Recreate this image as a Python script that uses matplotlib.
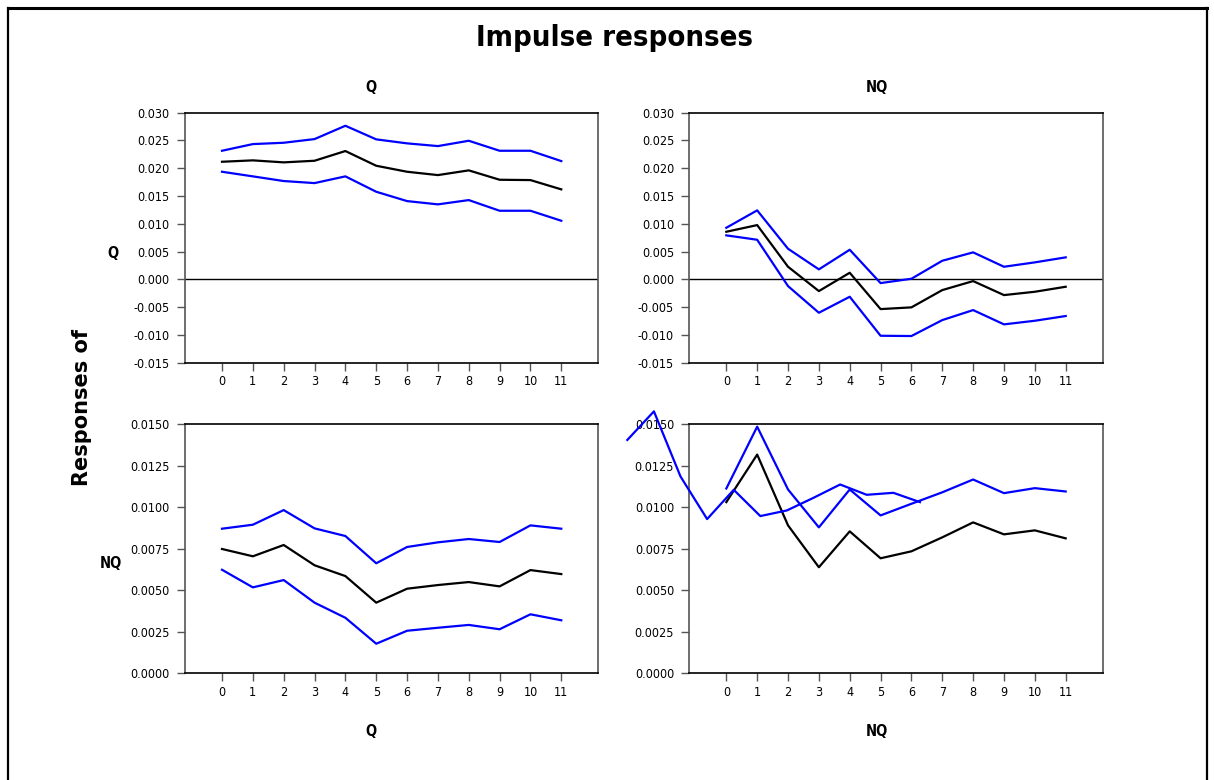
import matplotlib
matplotlib.use('Agg')
import matplotlib.pyplot as plt
from matplotlib.font_manager import FontProperties
from matplotlib.lines import Line2D
from matplotlib.ticker import FormatStrFormatter

plt.rcParams['font.family'] = ['Liberation Sans Narrow', 'DejaVu Sans']
plt.rcParams['font.stretch'] = 'condensed'

steps = list(range(12))

# responses of Q
q_q_up = [0.02315, 0.02435, 0.02459, 0.02525, 0.02765, 0.0252, 0.02448, 0.02399, 0.02495, 0.02315, 0.02315, 0.02129]
q_q = [0.02117, 0.02142, 0.02106, 0.02135, 0.0231, 0.02045, 0.01937, 0.01877, 0.01962, 0.01793, 0.01787, 0.0162]
q_q_lo = [0.01937, 0.01854, 0.0177, 0.01733, 0.01854, 0.01577, 0.01409, 0.0135, 0.01427, 0.01235, 0.01235, 0.01055]

q_nq_up = [0.00929, 0.01242, 0.00551, 0.0018, 0.00533, -0.00067, 0.00011, 0.00335, 0.00486, 0.00227, 0.00306, 0.00396]
q_nq = [0.00857, 0.00977, 0.00227, -0.00211, 0.00119, -0.00535, -0.00504, -0.00193, -0.00031, -0.00283, -0.00223, -0.00133]
q_nq_lo = [0.00792, 0.00713, -0.00121, -0.00601, -0.00313, -0.01015, -0.0102, -0.00733, -0.00553, -0.0081, -0.00745, -0.0066]

# responses of NQ
nq_q_up = [0.0087, 0.00894, 0.00982, 0.00872, 0.00826, 0.00662, 0.0076, 0.00788, 0.00808, 0.0079, 0.0089, 0.0087]
nq_q = [0.00748, 0.00704, 0.00772, 0.0065, 0.00585, 0.00425, 0.00509, 0.00531, 0.00549, 0.00523, 0.00621, 0.00597]
nq_q_lo = [0.00623, 0.00517, 0.00561, 0.00425, 0.00334, 0.00178, 0.00256, 0.00274, 0.00291, 0.00265, 0.00355, 0.00319]

nq_nq_up = [0.01112, 0.01484, 0.01106, 0.00878, 0.01106, 0.0095, 0.0102, 0.01089, 0.01166, 0.01084, 0.01114, 0.01094]
nq_nq = [0.0103, 0.01316, 0.0089, 0.00638, 0.00854, 0.00692, 0.00734, 0.00818, 0.00908, 0.00836, 0.0086, 0.00812]
nq_nq_lo = [0.01404, 0.01576, 0.01184, 0.00928, 0.01104, 0.00946, 0.0098, 0.01056, 0.01136, 0.01074, 0.01086, 0.0103]

W, H = 1214, 780
fig = plt.figure(figsize=(W / 100, H / 100), dpi=100)


def frac(x, y):
    return x / W, 1 - y / H


# figure border
fig.add_artist(Line2D([8 / W, 1207 / W], [1 - 8 / H, 1 - 8 / H], color='black', lw=2.2,
                      transform=fig.transFigure))
fig.add_artist(Line2D([8 / W, 8 / W], [0, 1 - 8 / H], color='black', lw=1.6, transform=fig.transFigure))
fig.add_artist(Line2D([1207 / W, 1207 / W], [0, 1 - 8 / H], color='black', lw=1.6, transform=fig.transFigure))


def make_ax(left, top, right, bottom, ylim, yticks, fmt, zero_line):
    ax = fig.add_axes([left / W, 1 - bottom / H, (right - left) / W, (bottom - top) / H])
    ax.set_xlim(-1.2, 12.2)
    ax.set_ylim(*ylim)
    ax.set_xticks(steps)
    ax.set_yticks(yticks)
    ax.yaxis.set_major_formatter(FormatStrFormatter(fmt))
    ax.tick_params(axis='both', direction='out', length=6, width=1, color='#555555',
                   labelsize=9, pad=3)
    ax.tick_params(axis='y', pad=5)
    for s in ['left', 'right']:
        ax.spines[s].set_color('#555555')
        ax.spines[s].set_linewidth(1.2)
    for s in ['top', 'bottom']:
        ax.spines[s].set_color('black')
        ax.spines[s].set_linewidth(1.2)
    if zero_line:
        ax.axhline(0, color='black', lw=1)
    return ax


top_ticks = [-0.015, -0.010, -0.005, 0.0, 0.005, 0.010, 0.015, 0.020, 0.025, 0.030]
bot_ticks = [0.0, 0.0025, 0.005, 0.0075, 0.010, 0.0125, 0.015]

ax1 = make_ax(185, 112.7, 598.3, 362.7, (-0.015, 0.030), top_ticks, '%.3f', True)
ax2 = make_ax(689.3, 112.7, 1102.7, 362.7, (-0.015, 0.030), top_ticks, '%.3f', True)
ax3 = make_ax(185, 424, 598.3, 673.3, (0.0, 0.015), bot_ticks, '%.4f', False)
ax4 = make_ax(689.3, 424, 1102.7, 673.3, (0.0, 0.015), bot_ticks, '%.4f', False)

lw = 1.6
for ax, up, mid, lo in [(ax1, q_q_up, q_q, q_q_lo), (ax2, q_nq_up, q_nq, q_nq_lo),
                        (ax3, nq_q_up, nq_q, nq_q_lo)]:
    ax.plot(steps, up, color='blue', lw=lw)
    ax.plot(steps, lo, color='blue', lw=lw)
    ax.plot(steps, mid, color='black', lw=lw)

ax4.plot(steps, nq_nq_up, color='blue', lw=lw)
ax4.plot(steps, nq_nq, color='black', lw=lw)
# lower band drawn on a misaligned horizontal scale, as in the original
ax4b = ax4.twiny()
ax4b.set_xlim(2.33, 17.87)
ax4b.set_ylim(ax4.get_ylim())
ax4b.axis('off')
ax4b.plot(steps, nq_nq_lo, color='blue', lw=lw, clip_on=False)

# texts
fig.text(*frac(614, 38), 'Impulse responses', ha='center', va='center', fontsize=21, fontweight='bold')
for x, t in [(371, 'Q'), (877, 'NQ')]:
    fig.text(*frac(x, 87), t, ha='center', va='center', fontsize=10.5, fontweight='bold')
    fig.text(*frac(x, 731), t, ha='center', va='center', fontsize=10.5, fontweight='bold')
fig.text(*frac(113, 254), 'Q', ha='center', va='center', fontsize=10.5, fontweight='bold')
fig.text(*frac(111, 564), 'NQ', ha='center', va='center', fontsize=10.5, fontweight='bold')
resp_font = FontProperties(family='DejaVu Sans', weight='bold', stretch='normal', size=15)
fig.text(*frac(82, 407), 'Responses of', ha='center', va='center', rotation=90,
         fontproperties=resp_font)

fig.savefig('out.png', dpi=100)
